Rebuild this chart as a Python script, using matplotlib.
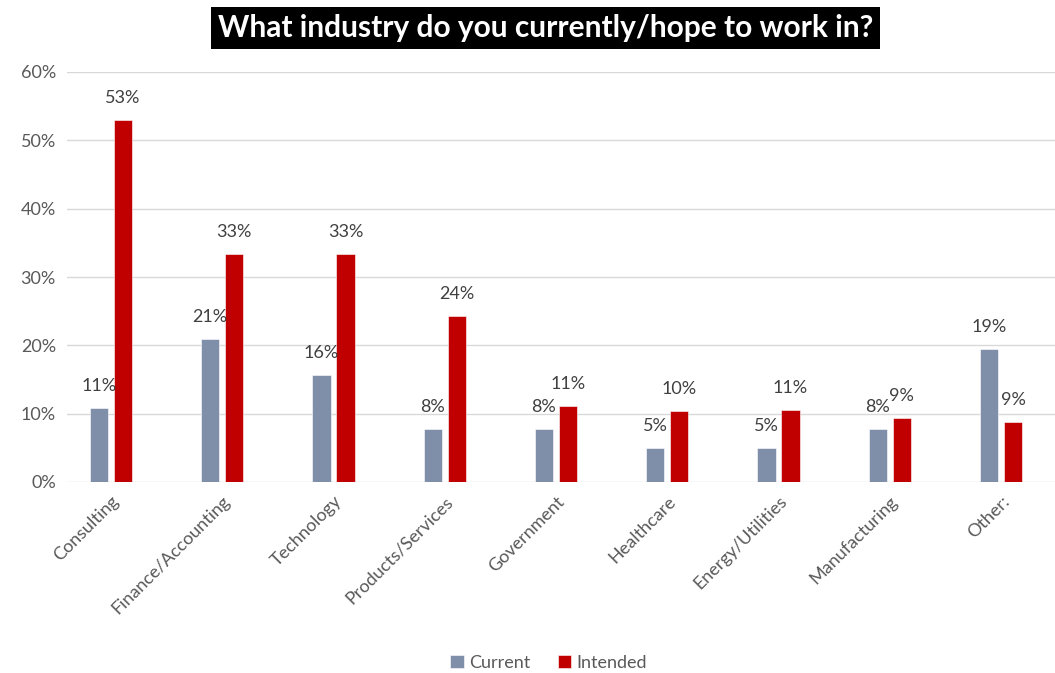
import numpy as np
import matplotlib.pyplot as plt

plt.rcParams['font.family'] = ['Lato', 'DejaVu Sans']

categories = ["Consulting", "Finance/Accounting", "Technology", "Products/Services",
              "Government", "Healthcare", "Energy/Utilities", "Manufacturing", "Other:"]
current = [10.8, 21.0, 15.6, 7.8, 7.8, 5.0, 5.0, 7.8, 19.4]
intended = [53.0, 33.4, 33.4, 24.3, 11.1, 10.4, 10.6, 9.3, 8.8]

GRAY = "#7F8FA9"
RED = "#C00000"
TEXT = "#595959"

fig = plt.figure(figsize=(10.55, 6.73), dpi=100)
ax = fig.add_axes([67 / 1055, (673 - 482) / 673, (1055 - 67) / 1055, 410 / 673])

x = np.arange(len(categories))
w = 0.165
off = 0.108
b1 = ax.bar(x - off, current, w, color=GRAY, edgecolor="white", linewidth=0.4, label="Current", zorder=3)
b2 = ax.bar(x + off, intended, w, color=RED, edgecolor="white", linewidth=0.4, label="Intended", zorder=3)

for bars, vals in ((b1, current), (b2, intended)):
    for rect, v in zip(bars, vals):
        ax.annotate(f"{v:.0f}%", (rect.get_x() + rect.get_width() / 2, v),
                    xytext=(0, 22), textcoords="offset pixels",
                    ha="center", va="center", fontsize=13, color="#404040")

ax.set_ylim(0, 60)
ax.set_xlim(-0.395, 8.485)
ax.set_yticks(range(0, 61, 10))
ax.set_yticklabels([f"{t}%" for t in range(0, 61, 10)], fontsize=13, color=TEXT)
ax.set_xticks(x)
ax.set_xticklabels(categories, rotation=45, ha="right", rotation_mode="anchor",
                   fontsize=13, color=TEXT)
ax.tick_params(length=0, pad=8)
ax.grid(axis="y", color="#D9D9D9", linewidth=1, zorder=0)
for s in ax.spines.values():
    s.set_visible(False)

fig.text(0.517, 1 - 28 / 673, "What industry do you currently/hope to work in?",
         ha="center", va="center", fontsize=21.5, fontweight="bold", color="white",
         bbox=dict(facecolor="black", edgecolor="none", boxstyle="square,pad=0.22"))

fig.legend(handles=[b1, b2], loc="center", bbox_to_anchor=(0.52, 1 - 663 / 673),
           ncol=2, frameon=False, fontsize=13, handlelength=0.75, handleheight=0.75,
           handletextpad=0.3, columnspacing=1.5, labelcolor=TEXT)

fig.savefig("out.png", dpi=100)
